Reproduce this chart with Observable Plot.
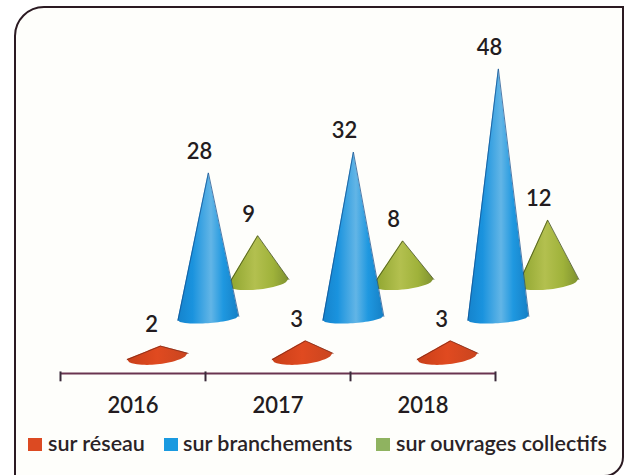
<!DOCTYPE html>
<html lang="fr">
<head>
<meta charset="utf-8">
<script src="https://cdn.jsdelivr.net/npm/d3@7"></script>
<script src="https://cdn.jsdelivr.net/npm/@observablehq/plot@0.6"></script>
<style>
  html, body { margin: 0; padding: 0; background: #fff; width: 626px; height: 475px; overflow: hidden; }
  #frame { position: absolute; left: 14px; top: 6px; width: 610px; height: 471px; box-sizing: border-box;
    border: 2.5px solid #2b1a22; border-radius: 30px 0 20px 0; background: #fefefb; }
  #chart { position: absolute; left: 0; top: 0; }
  #legend { position: absolute; left: 0; top: 429px; width: 626px; height: 28px;
    font: 600 21.5px/28px Lato, sans-serif; color: #2a2326; }
  #legend span { position: absolute; white-space: nowrap; }
  #legend i { position: absolute; top: 9px; width: 14px; height: 13px; }
</style>
</head>
<body>
<div id="frame"></div>
<div id="chart"></div>
<div id="legend"></div>
<script>
const years = ["2016", "2017", "2018"];
const seriesNames = ["sur réseau", "sur branchements", "sur ouvrages collectifs"];
const reseau = [2, 3, 3];
const branchements = [28, 32, 48];
const ouvrages = [9, 8, 12];

// Depth layout of the pseudo-3D cones, in scale units
const layout = {
  reseau:       { values: reseau,       at: 0.67, lean: 0.02,  floor: 3.27,  tilt: 0.6,  sag: 1.6,  half: 0.21, fill: "url(#g-red)",   edge: "#7a2a18" },
  branchements: { values: branchements, at: 1.02, lean: 0,     floor: 10.58, tilt: 0.40, sag: 1.0,  half: 0.21, fill: "url(#g-blue)",  edge: "#16508f" },
  ouvrages:     { values: ouvrages,     at: 1.365, lean: -0.005, floor: 17.5, tilt: 0.58, sag: 1.45, half: 0.21, fill: "url(#g-green)", edge: "#3d4a1c" }
};

function cone(s) {
  return s.values.flatMap((v, g) => {
    const c = g + s.at, tip = c + s.lean, top = s.floor + v, pts = [];
    const L = c - s.half, R = c + s.half;
    const xs = d3.range(0, 25).map(i => L + (R - L) * i / 24).concat(tip).sort(d3.ascending);
    for (const x of xs) {
      const u = (x - c) / s.half;
      const chord = s.floor + s.tilt * u;
      const upper = x <= tip
        ? (s.floor - s.tilt) + (top - (s.floor - s.tilt)) * (x - L) / (tip - L)
        : (s.floor + s.tilt) + (top - (s.floor + s.tilt)) * (R - x) / (R - tip);
      pts.push({ g, x, y1: chord - s.sag * Math.sqrt(Math.max(0, 1 - u * u)), y2: upper });
    }
    return pts;
  });
}

function edges(s) {
  return s.values.flatMap((v, g) => {
    const c = g + s.at;
    return [
      { g, x: c - s.half, y: s.floor - s.tilt },
      { g, x: c + s.lean, y: s.floor + v },
      { g, x: c + s.half, y: s.floor + s.tilt }
    ];
  });
}

function labels(s) {
  return s.values.map((v, g) => ({ x: g + s.at + s.lean, y: s.floor + v, v }));
}

function defs() {
  const ns = "http://www.w3.org/2000/svg";
  const d = document.createElementNS(ns, "defs");
  const grads = {
    "g-red":   [[0, "#c93f18"], [0.5, "#e04a20"], [1, "#c9451f"]],
    "g-blue":  [[0, "#1583cc"], [0.25, "#1a93de"], [0.55, "#62b5e6"], [0.75, "#1f98e0"], [1, "#1580c6"]],
    "g-green": [[0, "#8ba22c"], [0.45, "#b3c04f"], [0.75, "#9fb23a"], [1, "#7f9230"]]
  };
  for (const [id, stops] of Object.entries(grads)) {
    const g = document.createElementNS(ns, "linearGradient");
    g.setAttribute("id", id);
    for (const [o, c] of stops) {
      const st = document.createElementNS(ns, "stop");
      st.setAttribute("offset", o);
      st.setAttribute("stop-color", c);
      g.appendChild(st);
    }
    d.appendChild(g);
  }
  return d;
}

const order = [layout.ouvrages, layout.branchements, layout.reseau];

const chart = Plot.plot({
  width: 626,
  height: 425,
  marginLeft: 60,
  marginRight: 131,
  marginTop: 0,
  marginBottom: 52,
  style: { background: "transparent", fontFamily: "Lato, sans-serif", color: "#2a2326" },
  x: { domain: [0, 3] },
  y: { domain: [0, 71.73], axis: null },
  marks: [
    defs,
    ...order.flatMap(s => [
      Plot.areaY(cone(s), { x: "x", y1: "y1", y2: "y2", z: "g", fill: s.fill }),
      Plot.line(edges(s), { x: "x", y: "y", z: "g", stroke: s.edge, strokeWidth: 1, strokeOpacity: 0.75 })
    ]),
    ...order.map(s => Plot.text(labels(s), {
      x: "x", y: "y", text: "v", dx: -9, dy: -21,
      fontSize: 22, fontWeight: 600, fill: "#231c20"
    })),
    Plot.ruleY([0], { x1: 0, x2: 3, stroke: "#6a3450", strokeWidth: 2 }),
    Plot.ruleX([0, 1, 2, 3], { y1: 0.3, y2: -1.6, stroke: "#3a2a3a", strokeWidth: 2 }),
    Plot.axisX({
      ticks: [0.5, 1.5, 2.5],
      tickFormat: d => years[Math.floor(d)],
      tickSize: 0,
      tickPadding: 24,
      label: null,
      fontSize: 22,
      fontWeight: 600,
      fill: "#231c20"
    })
  ]
});
document.getElementById("chart").appendChild(chart);

const legendColors = ["#dc4a22", "#1a9ae0", "#8fb360"];
const swatchX = [28, 164, 376];
const textX = [48, 183, 396];
const legend = document.getElementById("legend");
seriesNames.forEach((name, i) => {
  const sw = document.createElement("i");
  sw.style.left = swatchX[i] + "px";
  sw.style.background = legendColors[i];
  legend.appendChild(sw);
  const t = document.createElement("span");
  t.style.left = textX[i] + "px";
  t.textContent = name;
  legend.appendChild(t);
});
</script>
</body>
</html>
